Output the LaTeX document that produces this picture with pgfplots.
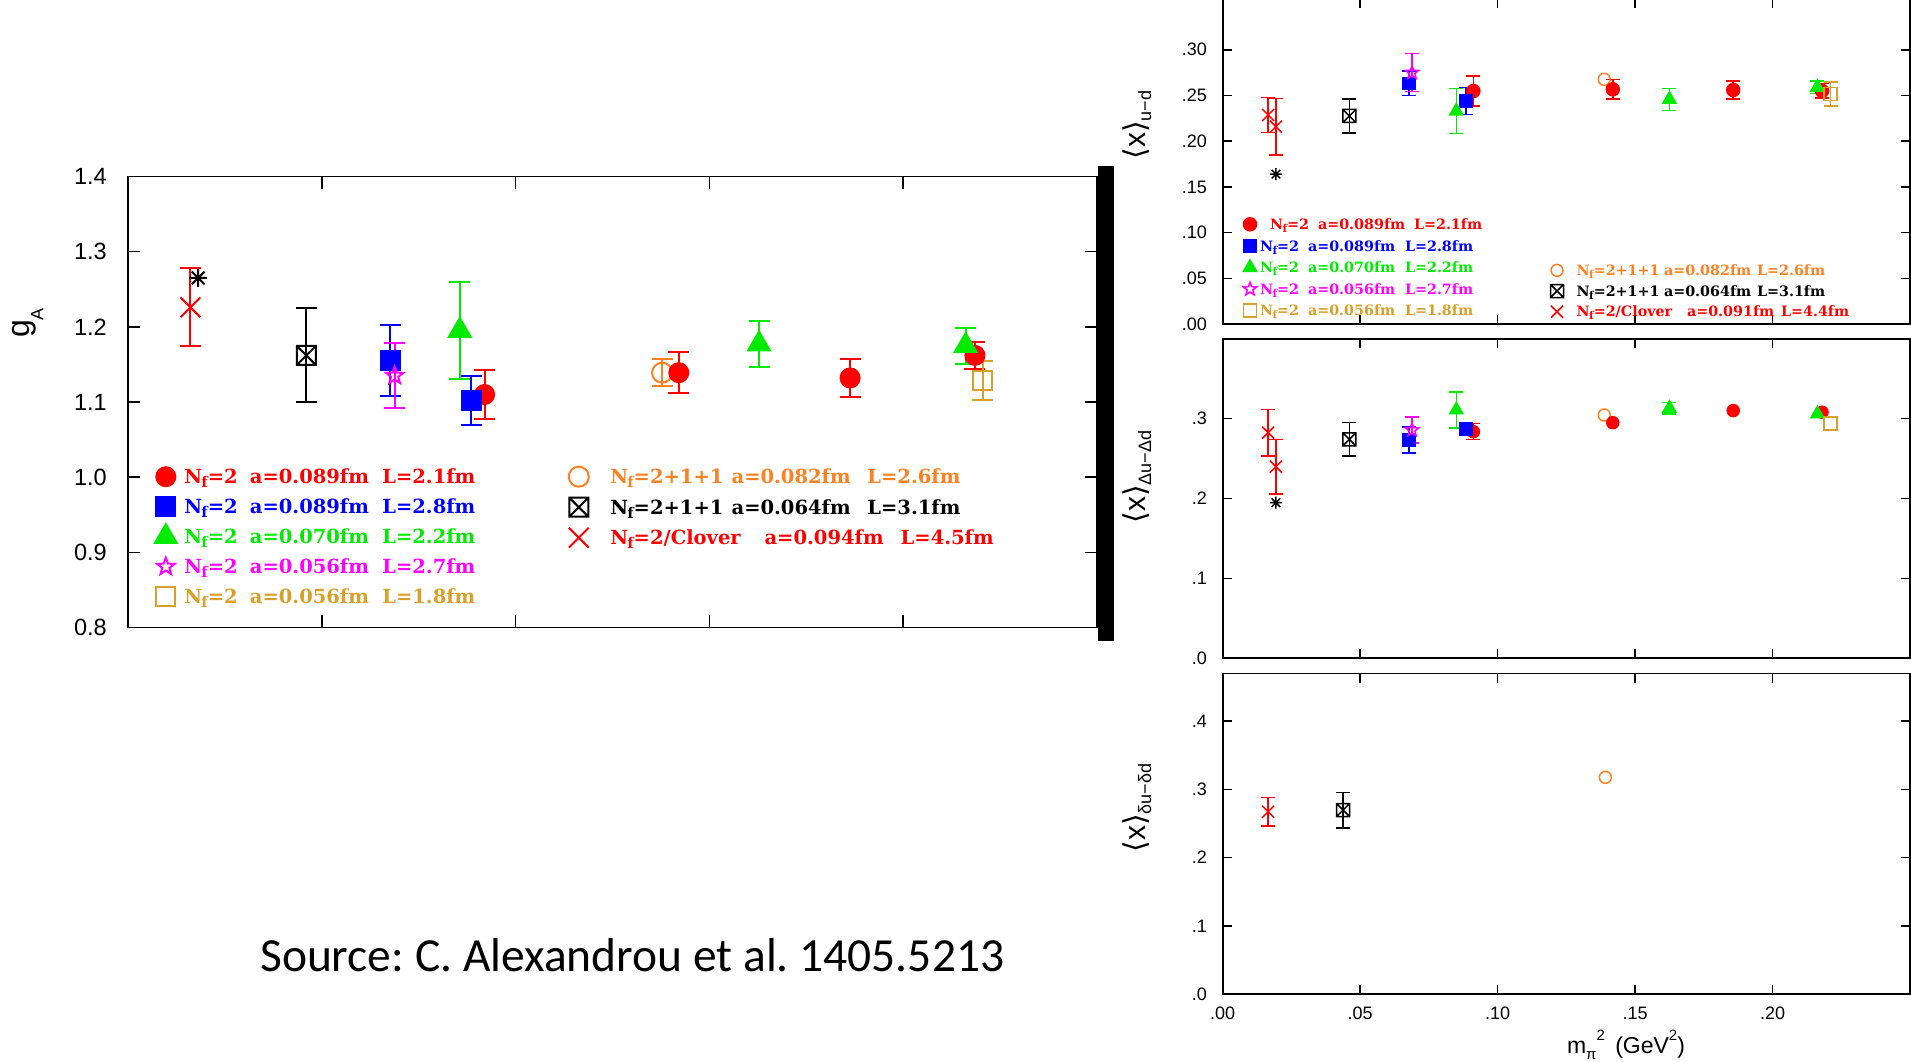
\documentclass[border=0pt]{standalone}
\usepackage{fontspec}
\setmainfont{Liberation Sans}
\newfontfamily\legfam{DejaVu Serif}
\newfontfamily\srcfam{Carlito}
\newfontfamily\dvs{DejaVu Sans}
\usepackage{graphicx}
\usepackage{pgfplots}
\pgfplotsset{compat=1.18}
\usetikzlibrary{plotmarks}

\definecolor{cR}{RGB}{255,0,0}
\definecolor{cB}{RGB}{0,0,255}
\definecolor{cG}{RGB}{0,235,0}
\definecolor{cM}{RGB}{255,0,255}
\definecolor{cY}{RGB}{215,160,40}
\definecolor{cO}{RGB}{255,128,32}

\pgfdeclareplotmark{boxx}{%
  \pgfpathrectanglecorners{\pgfqpoint{-\pgfplotmarksize}{-\pgfplotmarksize}}{\pgfqpoint{\pgfplotmarksize}{\pgfplotmarksize}}%
  \pgfpathmoveto{\pgfqpoint{-\pgfplotmarksize}{-\pgfplotmarksize}}%
  \pgfpathlineto{\pgfqpoint{\pgfplotmarksize}{\pgfplotmarksize}}%
  \pgfpathmoveto{\pgfqpoint{-\pgfplotmarksize}{\pgfplotmarksize}}%
  \pgfpathlineto{\pgfqpoint{\pgfplotmarksize}{-\pgfplotmarksize}}%
  \pgfusepathqstroke}
\pgfdeclareplotmark{ast8}{%
  \pgfpathmoveto{\pgfqpoint{-\pgfplotmarksize}{0pt}}\pgfpathlineto{\pgfqpoint{\pgfplotmarksize}{0pt}}%
  \pgfpathmoveto{\pgfqpoint{0pt}{-\pgfplotmarksize}}\pgfpathlineto{\pgfqpoint{0pt}{\pgfplotmarksize}}%
  \pgfpathmoveto{\pgfqpoint{-.7071\pgfplotmarksize}{-.7071\pgfplotmarksize}}\pgfpathlineto{\pgfqpoint{.7071\pgfplotmarksize}{.7071\pgfplotmarksize}}%
  \pgfpathmoveto{\pgfqpoint{-.7071\pgfplotmarksize}{.7071\pgfplotmarksize}}\pgfpathlineto{\pgfqpoint{.7071\pgfplotmarksize}{-.7071\pgfplotmarksize}}%
  \pgfusepathqstroke}
\pgfdeclareplotmark{ostar}{%
  \pgfpathmoveto{\pgfqpointpolar{90}{\pgfplotmarksize}}%
  \pgfpathlineto{\pgfqpointpolar{126}{.42\pgfplotmarksize}}%
  \pgfpathlineto{\pgfqpointpolar{162}{\pgfplotmarksize}}%
  \pgfpathlineto{\pgfqpointpolar{198}{.42\pgfplotmarksize}}%
  \pgfpathlineto{\pgfqpointpolar{234}{\pgfplotmarksize}}%
  \pgfpathlineto{\pgfqpointpolar{270}{.42\pgfplotmarksize}}%
  \pgfpathlineto{\pgfqpointpolar{306}{\pgfplotmarksize}}%
  \pgfpathlineto{\pgfqpointpolar{342}{.42\pgfplotmarksize}}%
  \pgfpathlineto{\pgfqpointpolar{18}{\pgfplotmarksize}}%
  \pgfpathlineto{\pgfqpointpolar{54}{.42\pgfplotmarksize}}%
  \pgfpathclose\pgfusepathqstroke}

\newcommand\Nf{N\kern-0.04em\raisebox{-0.21em}{\scalebox{0.76}{f}}}
\newcommand\LR[5]{\makebox[#1][l]{\Nf#3}\makebox[#2][l]{#4}#5}
\newcommand\fa{\legfam\bfseries\fontsize{19.5}{22}\selectfont}
\newcommand\fb{\legfam\bfseries\fontsize{14.3}{17}\selectfont}
\newcommand\legimg[2]{\pgfpathrectanglecorners{\pgfqpoint{-#1}{-#2}}{\pgfqpoint{#1}{#2}}\pgfusepath{discard}}

\pgfplotsset{
  base/.style={scale only axis, anchor=south west, clip=false,
    xmin=0, xmax=0.25, axis line style={line width=1.8pt},
    tick style={black, line width=1.6pt}},
  eb/.style={error bars/.cd, y dir=both, y explicit},
  pA/.style n args={3}{only marks, color=#1, mark=#2, mark size=#3, mark options={solid, line width=2pt, fill=#1}},
  pB/.style n args={3}{only marks, color=#1, mark=#2, mark size=#3, mark options={solid, line width=1.5pt, fill=#1}},
  leftax/.style={base, at={(128pt,-627.5pt)}, width=969pt, height=451pt, ymin=0.8, ymax=1.4,
    xtick={0.05,0.1,0.15,0.2}, xticklabels={},
    ytick={0.8,0.9,1.0,1.1,1.2,1.3,1.4}, yticklabels={0.8,0.9,1.0,1.1,1.2,1.3,1.4},
    yticklabel style={font=\fontsize{23.5}{26}\selectfont, inner sep=0pt, xshift=-21pt},
    major tick length=12.5pt,
    error bars/error bar style={line width=2pt},
    error bars/error mark options={rotate=90, line width=2pt, mark size=10.5pt}},
  rightax/.style={base, width=687.4pt, xtick={0,0.05,0.1,0.15,0.2},
    xticklabels={}, major tick length=9pt,
    yticklabel style={font=\fontsize{18}{20}\selectfont, inner sep=0pt, xshift=-15.6pt},
    xticklabel style={font=\fontsize{18}{20}\selectfont, inner sep=0pt, yshift=-13pt},
    every mark/.append style={xscale=1.2},
    error bars/error bar style={line width=1.5pt},
    error bars/error mark options={rotate=90, line width=1.5pt, mark size=7pt}},
}

\begin{document}
\begin{tikzpicture}
\useasboundingbox (0pt,0pt) rectangle (1911pt,-1062pt);

% ================= LEFT PANEL: g_A =================
\begin{axis}[leftax,
  legend style={at={(0.02786,0.3676)}, anchor=north west, draw=none, fill=none, inner sep=0pt, outer sep=0pt, row sep=0pt, column sep=7.7pt, font=\fa, nodes={inner sep=0pt, outer sep=0pt, text height=14.2pt, text depth=0pt}},
  legend cell align=left,
  legend image code/.code={\legimg{10pt}{15pt}\draw[#1] plot coordinates {(0pt,0pt)};}]
\addplot[forget plot, pA={cO}{o}{10pt}, eb] coordinates {(0.1378,1.139) +- (0,0.018)};
\addplot[forget plot, pA={black}{boxx}{9.5pt}, eb] coordinates {(0.046,1.162) +- (0,0.0625)};
\addplot[forget plot, pA={cR}{x}{14pt}, eb] coordinates {(0.0161,1.226) +- (0,0.052)};
\addplot[forget plot, pA={black}{ast8}{9pt}] coordinates {(0.0181,1.265)};
\addplot[pA={cR}{*}{9.5pt}, eb] coordinates {(0.092,1.110) +- (0,0.033) (0.1421,1.139) +- (0,0.027) (0.1863,1.132) +- (0,0.025) (0.2185,1.162) +- (0,0.018)};
\addlegendentry{\color{cR}\LR{65.6pt}{132.4pt}{=2}{a=0.089fm}{L=2.1fm}}
\addplot[pA={cB}{square*}{9.5pt}, eb] coordinates {(0.0677,1.155) +- (0,0.047) (0.0886,1.102) +- (0,0.032)};
\addlegendentry{\color{cB}\LR{65.6pt}{132.4pt}{=2}{a=0.089fm}{L=2.8fm}}
\addplot[pA={cG}{triangle*}{12.5pt}, eb] coordinates {(0.0856,1.195) +- (0,0.065) (0.1628,1.177) +- (0,0.031) (0.2161,1.175) +- (0,0.024)};
\addlegendentry{\color{cG}\LR{65.6pt}{132.4pt}{=2}{a=0.070fm}{L=2.2fm}}
\addplot[pA={cM}{ostar}{9pt}, eb] coordinates {(0.0688,1.135) +- (0,0.043)};
\addlegendentry{\color{cM}\LR{65.6pt}{132.4pt}{=2}{a=0.056fm}{L=2.7fm}}
\addplot[pA={cY}{square}{9.5pt}, eb] coordinates {(0.2205,1.129) +- (0,0.026)};
\addlegendentry{\color{cY}\LR{65.6pt}{132.4pt}{=2}{a=0.056fm}{L=1.8fm}}
\end{axis}

\begin{axis}[leftax, hide axis,
  legend style={at={(0.4549,0.3682)}, anchor=north west, draw=none, fill=none, inner sep=0pt, outer sep=0pt, row sep=0pt, column sep=21.5pt, font=\fa, nodes={inner sep=0pt, outer sep=0pt, text height=14.2pt, text depth=0pt}},
  legend cell align=left,
  legend image code/.code={\legimg{10pt}{15.25pt}\draw[#1] plot coordinates {(0pt,0pt)};}]
\addlegendimage{pA={cO}{o}{10pt}}
\addlegendentry{\color{cO}\LR{121.3pt}{135.8pt}{=2+1+1}{a=0.082fm}{L=2.6fm}}
\addlegendimage{pA={black}{boxx}{9.5pt}}
\addlegendentry{\color{black}\LR{121.3pt}{135.8pt}{=2+1+1}{a=0.064fm}{L=3.1fm}}
\addlegendimage{pA={cR}{x}{14pt}}
\addlegendentry{\color{cR}\LR{154.3pt}{136.1pt}{=2/Clover}{a=0.094fm}{L=4.5fm}}
\end{axis}

% ================= RIGHT TOP: <x>_{u-d} =================
\begin{axis}[rightax, at={(1222.6pt,-324pt)}, height=325pt, ymin=0, ymax=0.35558,
  ytick={0,0.05,0.1,0.15,0.2,0.25,0.3}, yticklabels={.00,.05,.10,.15,.20,.25,.30},
  legend style={at={(0.02968,0.3400)}, anchor=north west, draw=none, fill=none, inner sep=0pt, outer sep=0pt, row sep=0pt, column sep=3pt, font=\fb, nodes={inner sep=0pt, outer sep=0pt, text height=10.4pt, text depth=0pt}},
  legend cell align=left,
  legend image code/.code={\legimg{7pt}{10.8pt}\draw[#1] plot coordinates {(0pt,0pt)};}]
\addplot[forget plot, pB={cO}{o}{6pt}] coordinates {(0.1388,0.2677)};
\addplot[forget plot, pB={black}{boxx}{6.5pt}, eb] coordinates {(0.0461,0.2276) +- (0,0.0185)};
\addplot[forget plot, pB={cR}{x}{8.5pt}, eb] coordinates {(0.01655,0.2287) +- (0,0.019) (0.0194,0.2159) +- (0,0.031)};
\addplot[forget plot, pB={black}{ast8}{6pt}] coordinates {(0.0194,0.164)};
\addplot[pB={cR}{*}{6.5pt}, eb] coordinates {(0.0912,0.2549) +- (0,0.0164) (0.1419,0.2568) +- (0,0.0108) (0.1857,0.256) +- (0,0.010) (0.218,0.255) +- (0,0.008)};
\addlegendentry{\color{cR}\hspace{10pt}\LR{48pt}{96pt}{=2}{a=0.089fm}{L=2.1fm}}
\addplot[pB={cB}{square*}{6pt}, eb] coordinates {(0.0677,0.2633) +- (0,0.0135) (0.0886,0.244) +- (0,0.015)};
\addlegendentry{\color{cB}\LR{48pt}{97pt}{=2}{a=0.089fm}{L=2.8fm}}
\addplot[pB={cG}{triangle*}{7.5pt}, eb] coordinates {(0.085,0.233) +- (0,0.0246) (0.1625,0.2458) +- (0,0.012) (0.2163,0.259) +- (0,0.007)};
\addlegendentry{\color{cG}\LR{48pt}{97pt}{=2}{a=0.070fm}{L=2.2fm}}
\addplot[pB={cM}{ostar}{7pt}, eb] coordinates {(0.0689,0.275) +- (0,0.0208)};
\addlegendentry{\color{cM}\LR{48pt}{97pt}{=2}{a=0.056fm}{L=2.7fm}}
\addplot[pB={cY}{square}{6.5pt}, eb] coordinates {(0.2211,0.2516) +- (0,0.013)};
\addlegendentry{\color{cY}\LR{48pt}{97pt}{=2}{a=0.056fm}{L=1.8fm}}
\end{axis}

\begin{axis}[rightax, hide axis, at={(1222.6pt,-324pt)}, height=325pt, ymin=0, ymax=0.35558,
  legend style={at={(0.4763,0.1970)}, anchor=north west, draw=none, fill=none, inner sep=0pt, outer sep=0pt, row sep=0pt, column sep=12.6pt, font=\fb, nodes={inner sep=0pt, outer sep=0pt, text height=10.4pt, text depth=0pt}},
  legend cell align=left,
  legend image code/.code={\legimg{7pt}{10.35pt}\draw[#1] plot coordinates {(0pt,0pt)};}]
\addlegendimage{pB={cO}{o}{6pt}}
\addlegendentry{\color{cO}\LR{87.4pt}{93pt}{=2+1+1}{a=0.082fm}{L=2.6fm}}
\addlegendimage{pB={black}{boxx}{6.5pt}}
\addlegendentry{\color{black}\LR{87.4pt}{93pt}{=2+1+1}{a=0.064fm}{L=3.1fm}}
\addlegendimage{pB={cR}{x}{8.5pt}}
\addlegendentry{\color{cR}\LR{110.4pt}{94pt}{=2/Clover}{a=0.091fm}{L=4.4fm}}
\end{axis}

% ================= RIGHT MIDDLE: <x>_{Du-Dd} =================
\begin{axis}[rightax, at={(1222.6pt,-658.3pt)}, height=319.6pt, ymin=0, ymax=0.4,
  ytick={0,0.1,0.2,0.3}, yticklabels={.0,.1,.2,.3}]
\addplot[pB={cO}{o}{6pt}] coordinates {(0.1388,0.3045)};
\addplot[pB={black}{boxx}{6.5pt}, eb] coordinates {(0.0461,0.274) +- (0,0.021)};
\addplot[pB={cR}{x}{8.5pt}, eb] coordinates {(0.01655,0.2824) +- (0,0.029) (0.0194,0.2398) +- (0,0.034)};
\addplot[pB={black}{ast8}{6pt}] coordinates {(0.0194,0.1948)};
\addplot[pB={cR}{*}{6pt}, eb] coordinates {(0.0912,0.2836) +- (0,0.010)};
\addplot[pB={cR}{*}{6pt}] coordinates {(0.1419,0.2949) (0.1857,0.310) (0.218,0.308)};
\addplot[pB={cB}{square*}{6pt}, eb] coordinates {(0.0677,0.2732) +- (0,0.016) (0.0886,0.287) +- (0,0.008)};
\addplot[pB={cG}{triangle*}{7.5pt}, eb] coordinates {(0.085,0.3108) +- (0,0.0228) (0.1625,0.3129) +- (0,0.007)};
\addplot[pB={cG}{triangle*}{7.5pt}] coordinates {(0.2163,0.3058)};
\addplot[pB={cM}{ostar}{7pt}, eb] coordinates {(0.0689,0.2857) +- (0,0.016)};
\addplot[pB={cY}{square}{6.5pt}] coordinates {(0.2211,0.294)};
\end{axis}

% ================= RIGHT BOTTOM: <x>_{du-dd} =================
\begin{axis}[rightax, at={(1222.6pt,-994pt)}, height=320.5pt, ymin=0, ymax=0.47,
  ytick={0,0.1,0.2,0.3,0.4}, yticklabels={.0,.1,.2,.3,.4},
  xticklabels={.00,.05,.10,.15,.20}]
\addplot[pB={cR}{x}{8.5pt}, eb] coordinates {(0.01655,0.2673) +- (0,0.021)};
\addplot[pB={black}{boxx}{6.5pt}, eb] coordinates {(0.0438,0.2698) +- (0,0.026)};
\addplot[pB={cO}{o}{6pt}] coordinates {(0.1392,0.3177)};
\end{axis}

% thick bar between the panels
\fill[black] (1098pt,-166pt) rectangle (1114pt,-641pt);

% axis titles
\node[rotate=90, anchor=base west, inner sep=0pt] at (29pt,-338pt)
  {\fontsize{32}{36}\selectfont g\raisebox{-0.45em}{\fontsize{18}{20}\selectfont A}};
\node[rotate=90, anchor=base, inner sep=0pt] at (1145pt,-125pt)
  {\fontsize{30}{34}\selectfont{\dvs ⟨}x{\dvs ⟩}\raisebox{-6pt}{\fontsize{18}{20}\selectfont u−d}};
\node[rotate=90, anchor=base, inner sep=0pt] at (1145pt,-477pt)
  {\fontsize{30}{34}\selectfont{\dvs ⟨}x{\dvs ⟩}\raisebox{-6pt}{\fontsize{18}{20}\selectfont Δu−Δd}};
\node[rotate=90, anchor=base, inner sep=0pt] at (1145pt,-808pt)
  {\fontsize{30}{34}\selectfont{\dvs ⟨}x{\dvs ⟩}\raisebox{-6pt}{\fontsize{18}{20}\selectfont δu−δd}};
\node[anchor=base, inner sep=0pt] at (1626pt,-1053pt)
  {\fontsize{23}{27}\selectfont m\raisebox{-0.3em}{\fontsize{15}{17}\selectfont π}\raisebox{0.55em}{\fontsize{15}{17}\selectfont 2}\hspace{0.45em}(GeV\raisebox{0.55em}{\fontsize{15}{17}\selectfont 2})};

% source
\node[anchor=base west, inner sep=0pt] at (260pt,-971pt)
  {\frenchspacing\srcfam\fontsize{47.5}{56}\selectfont Source: C. Alexandrou et al. 1405.5213};
\end{tikzpicture}
\end{document}
